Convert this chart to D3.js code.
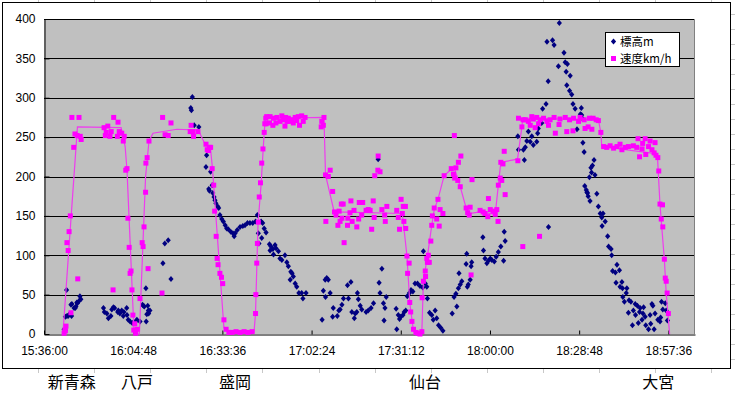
<!DOCTYPE html>
<html>
<head>
<meta charset="utf-8">
<script src="https://cdn.jsdelivr.net/npm/d3@7"></script>
<style>
  body { margin: 0; background: #fff; }
  text { font-family: "Liberation Sans", Arial, sans-serif; }
  .jp { font-family: "Noto Sans CJK JP", sans-serif; }
</style>
</head>
<body>
<div id="chart"></div>
<script>
// x values are minutes after the first tick (15:36:00)
const startClock = "15:36:00";
const xMaxMinutes = 210.2;
const xTickLabels = ["15:36:00", "16:04:48", "16:33:36", "17:02:24", "17:31:12", "18:00:00", "18:28:48", "18:57:36"];
const yTicks = [0, 50, 100, 150, 200, 250, 300, 350, 400];
const seriesNames = ["標高m", "速度km/h"];

const stations = ["新青森", "八戸", "盛岡", "仙台", "大宮"];
const stationMinutes = [9, 30, 61.7, 123, 198.3];

// 標高m
const elevation = [
  [6.5,6],[6.9,5],[6.9,22],[7.3,56],[7.4,23],[7.8,23],[8.2,25],[8.7,37],[8.9,23],[9.0,38],[9.7,33],[10.1,33],[10.3,35],[10.6,40],[10.8,39],[11.3,42],[11.6,48],[11.9,44],
  [19.2,33],[19.5,28],[20.3,26],[20.8,20],[21.6,23],[21.9,31],[22.4,34],[22.8,33],[23.8,28],[24.0,30],[24.5,26],[25.1,30],[25.6,23],[25.8,28],[26.7,33],[26.8,24],[27.2,18],[27.8,16],[28.5,14],[29.2,14],[29.6,16],[30.0,18],[31.0,16],[31.8,37],[32.1,36],[32.4,35],[32.9,58],[33.0,16],[33.2,25],[33.5,36],[33.7,30],[33.8,26],[34.2,30],
  [38.4,90],[39.0,115],[40.1,119],[41.0,70],
  [47.4,287],[47.6,284],[47.9,301],[48.5,265],[50.0,263],
  [52.3,212],[52.5,227],[53.2,184],[53.4,182],[53.8,206],[54.3,189],[54.5,179],[54.9,174],[55.2,170],[55.5,166],[56.1,162],[56.4,160],[56.8,151],[57.4,146],[57.9,143],[58.5,138],[59.0,134],[59.5,133],[60.3,130],[61.0,128],[61.4,124],[61.7,128],[62.4,132],[63.3,136],[64.2,137],[64.9,138],[65.7,141],[66.5,141],[67.4,141],[68.3,143],[68.9,151],[69.2,128],[69.4,115],
  [70.1,143],[70.3,122],[70.6,141],[71.1,134],[71.7,129],[72.8,114],[73.0,106],[73.3,111],[73.9,108],[74.1,101],[74.6,113],[74.9,109],[75.7,105],[76.2,96],[76.8,94],[77.8,100],[78.4,91],[78.9,86],[79.5,69],[79.7,79],[80.1,77],[80.5,73],[81.1,64],[81.6,60],[82.3,52],[83.2,52],[83.6,45],[84.6,52],
  [89.8,18],[90.2,55],[90.8,69],[90.9,47],[91.3,71],[91.8,69],[92.4,52],[93.2,22],[93.4,33],[94.7,23],[95.2,30],[95.6,31],[96.2,37],[96.7,45],[98.0,62],[98.3,45],[99.1,66],[99.4,28],[100.2,20],[100.5,26],[101.0,28],[101.2,52],[101.5,44],[102.1,36],[102.6,31],[104.0,28],[104.7,30],[105.6,33],[106.4,39],
  [107.9,222],[108.2,65],[108.5,52],[109.1,83],[109.6,39],[109.8,17],[110.1,33],[110.5,47],
  [113.7,32],[113.9,6],[114.4,24],[114.8,19],[115.2,22],[115.9,24],[116.3,28],[116.8,30],[117.3,48],[118.0,52],[118.5,56],[119.1,54],[119.8,64],[120.6,64],[121.4,61],[122.3,59],[122.5,105],[123.1,64],[123.6,60],[123.8,45],[124.5,27],[125.2,24],[125.7,18],[126.3,30],[126.8,20],[127.4,11],[128.1,8],[128.8,4],
  [131.8,26],[132.4,47],[133.0,51],[133.3,35],[133.8,58],[134.0,77],[134.4,63],[134.9,67],[136.3,89],[136.5,102],[136.7,60],[137.0,63],[137.6,69],[137.9,86],[138.1,91],
  [141.7,123],[141.9,106],[142.4,96],[143.0,90],[143.5,93],[144.1,96],[144.6,94],[145.4,92],[146.0,98],[146.7,104],[147.5,111],[148.4,93],[148.6,130],[148.9,118],
  [153.0,251],[153.2,234],[154.8,234],[155.1,221],[155.4,237],[155.9,245],[156.4,257],[157.0,244],[157.5,251],[158.0,240],[159.1,244],[159.4,255],[159.6,261],[160.7,268],[161.0,286],[162.1,292],[162.4,371],[162.8,321],[162.9,136],[164.2,373],[164.7,367],[166.1,340],[166.4,395],[167.9,357],[168.3,345],[168.6,333],[168.8,316],[169.0,343],[169.7,309],[169.9,328],[170.4,304],[170.8,292],[171.5,286],[172.1,260],[173.2,279],[173.5,287],[173.6,278],[173.8,274],
  [174.0,243],[174.4,231],[174.6,188],[175.1,183],[175.3,180],[175.5,179],[175.7,175],[176.1,199],[176.3,169],[176.6,211],[176.8,205],[177.1,214],[177.6,221],[177.9,202],[178.5,178],[179.0,162],[179.6,153],[180.1,148],[180.2,137],[180.5,153],[181.2,143],[182.0,124],[182.3,111],[183.1,108],[183.3,100],[183.6,80],[184.5,78],[184.7,65],[185.0,88],[185.8,81],[186.0,60],[186.6,66],[186.8,58],[186.9,47],[187.4,41],[188.0,52],[188.2,58],[188.7,27],[188.9,43],[189.5,41],
  [190.0,11],[190.3,30],[190.9,38],[191.0,24],[191.6,36],[191.9,14],[192.3,28],[192.5,33],[193.1,18],[193.4,26],[193.6,34],[194.1,22],[194.3,11],[195.2,6],[195.7,24],[195.9,13],[196.3,38],[196.6,36],[197.0,6],[197.3,26],[198.2,18],[198.9,16],[199.1,21],[199.4,41],[199.8,31],[200.6,39],[200.9,30],[201.3,17]
];

// 速度km/h (points)
const speed = [
  [6.5,1],[6.8,5],[6.9,4],[7.1,10],[7.4,116],[7.8,106],[8.1,130],[8.5,150],[8.7,27],[9.0,275],[9.6,237],[10.0,254],[10.7,252],[10.9,70],[11.3,275],[11.7,251],[12.0,247],
  [19.4,262],[19.8,252],[20.1,256],[20.6,264],[21.3,251],[21.7,257],[22.3,56],[22.5,275],[23.7,251],[23.9,269],[24.3,257],[25.1,255],[25.6,245],[25.9,251],[26.4,208],[26.8,210],
  [27.1,147],[27.5,110],[27.8,77],[28.1,80],[28.4,56],[28.7,24],[29.0,5],[29.3,13],[29.6,1],[30.1,6],
  [31.0,45],[31.7,116],[32.0,111],[32.3,136],[32.8,180],[32.9,217],[33.3,224],[33.6,83],[33.9,245],
  [38.1,52],[38.3,275],[39.1,253],[40.1,252],[41.0,268],
  [47.2,257],[47.5,265],[48.0,257],[48.3,251],[49.7,257],[52.3,241],[52.7,234],[53.1,233],[53.4,237],[53.8,237],
  [54.3,210],[54.8,189],[55.1,156],[55.6,124],[55.9,96],[56.2,88],[56.8,77],[57.3,72],[57.7,64],[58.1,18],[58.8,6],[59.7,2],[60.7,2],[62.0,3],[63.3,2],[64.6,3],[65.9,2],[67.2,3],
  [68.3,26],[68.4,50],[68.7,90],[68.9,115],[69.2,142],[69.5,174],[69.9,192],[70.3,217],[70.7,235],[71.1,256],[71.3,267],[71.6,274],
  [71.7,267],[71.9,276],[72.8,268],[73.0,276],[73.9,265],[74.1,274],[74.9,268],[75.2,275],[76.2,270],[76.8,277],[77.2,272],[77.8,264],[78.0,275],[78.5,270],[78.9,274],[79.2,270],[80.0,272],[80.5,268],[81.1,275],[81.6,271],[82.1,276],[82.5,265],[83.2,277],[83.7,270],[84.3,275],
  [89.5,263],[89.7,270],[90.2,265],[90.4,275],[90.9,202],[91.0,143],[91.8,200],[92.4,208],[93.2,181],[93.8,155],[94.3,151],[94.9,138],[95.3,156],[95.6,143],[96.0,165],[96.2,147],[96.6,165],[96.9,116],
  [98.0,138],[98.1,147],[98.8,154],[99.1,169],[99.5,143],[100.1,157],[101.0,136],[101.6,146],[101.8,167],[102.6,151],[102.9,167],[104.0,157],[104.7,158],[105.3,157],[105.8,133],[106.3,169],[106.6,148],[106.8,201],[107.8,208],[107.9,226],[108.5,206],[109.1,158],[110.0,151],[110.2,143],[110.7,162],
  [113.9,157],[114.4,148],[114.8,133],[115.3,171],[115.7,153],[116.0,162],[116.2,143],[116.7,162],[116.8,134],[117.2,99],[117.4,77],[117.9,90],[118.1,40],[118.4,28],[118.8,16],[119.3,6],[120.1,2],[120.7,1],[121.4,0],[122.0,3],
  [122.1,46],[122.5,67],[123.1,80],[123.2,73],[123.6,96],[123.8,91],[124.1,100],[124.4,91],[124.9,118],[125.2,138],[125.4,150],[126.0,160],[126.8,146],[127.2,171],[127.6,137],[127.9,158],[128.8,153],[129.2,201],
  [131.5,210],[132.2,203],[132.5,252],[132.6,198],[133.0,211],[133.6,195],[133.8,218],[134.4,187],[134.6,226],[136.3,160],[136.8,154],[137.3,151],[137.6,161],[137.9,75],[138.2,196],
  [140.8,157],[141.8,155],[142.4,153],[143.3,149],[143.5,172],[144.1,158],[145.0,156],[145.7,152],[146.2,158],[146.6,143],[146.7,189],[147.3,198],[147.5,218],[147.8,195],[148.2,216],[148.6,232],[148.9,177],
  [153.0,220],[153.2,274],[154.3,263],[154.6,111],[154.7,272],[155.4,272],[156.4,270],[157.0,265],[157.5,276],[158.0,273],[158.6,262],[159.1,275],[159.7,267],[160.0,124],[160.2,272],[161.3,274],[162.4,270],[162.9,265],[163.4,272],[164.7,275],[165.1,255],[166.3,266],[166.6,273],[168.3,275],[168.8,257],[169.7,272],[170.8,258],[171.0,274],[172.6,270],[173.1,275],[174.4,272],[174.7,261],[175.7,263],[176.1,274],[176.9,260],[177.3,274],[178.3,272],[179.0,271],[179.8,256],
  [180.7,238],[181.7,237],[182.8,239],[183.9,236],[185.0,238],[186.0,241],[186.6,234],[187.7,237],[188.7,238],[190.3,239],[191.4,237],[191.8,248],[192.3,225],[193.1,235],[193.3,242],[194.1,248],[194.3,228],[195.2,238],[195.7,245],[196.3,234],[197.0,230],[197.3,243],[197.6,227],[198.2,224],[198.5,207],
  [198.9,165],[199.3,146],[199.7,164],[199.8,136],[200.3,95],[200.6,71],[200.9,67],[201.2,52],[201.6,26]
];

// 速度km/h (line)
const speedLine = [
  [6.1,0],[10.8,263],[24.9,262],[26.2,238],[26.8,208],[29.1,0],[30.8,0],[32.8,200],[33.9,245],[35.2,255],[42.9,260],[49.8,259],[51.9,242],[53.8,234],[54.4,210],[58.1,8],[59.4,2],[67.8,2],
  [68.3,26],[69.1,140],[70.1,190],[71.1,256],[71.5,274],[90.4,275],[90.9,202],[93.7,155],[115.7,153],[117.2,99],[118.1,40],[119.3,3],[122.0,2],[122.5,67],[123.7,96],[125.2,138],[126.0,158],[127.2,171],
  [129.2,201],[131.1,208],[132.4,212],[134.4,187],[136.3,160],[137.3,153],[140.8,155],[145.7,152],[146.7,189],[147.5,218],[152.9,222],[154.3,263],[154.6,274],[179.0,272],[179.8,256],[180.1,238],
  [197.3,229],[198.1,224],[198.9,164],[200.3,95],[200.9,52],[202.0,0]
];

const W = 735, H = 393;
const plot = { left: 44, right: 695, top: 19, bottom: 334 };

const parseClock = d3.timeParse("%H:%M:%S");
const t0 = parseClock(startClock);
const toDate = m => new Date(t0.getTime() + m * 60000);

const x = d3.scaleTime()
  .domain([t0, toDate(xMaxMinutes)])
  .range([plot.left, plot.right]);
const y = d3.scaleLinear().domain([0, 400]).range([plot.bottom, plot.top]);

const svg = d3.select("#chart").append("svg")
  .attr("width", W).attr("height", H);

// spreadsheet cell lines peeking out around the chart object
const sheet = svg.append("g").attr("stroke", "#c8c8c8").attr("stroke-width", 1);
d3.range(38, W, 56.1).forEach(cx => {
  const xx = Math.round(cx) + 0.5;
  sheet.append("line").attr("x1", xx).attr("x2", xx).attr("y1", 0).attr("y2", 2);
  sheet.append("line").attr("x1", xx).attr("x2", xx).attr("y1", 369).attr("y2", 373);
});
d3.range(14, 370, 15).forEach(cy => {
  sheet.append("line").attr("x1", 731).attr("x2", W).attr("y1", cy + 0.5).attr("y2", cy + 0.5);
});

// chart area border
svg.append("rect")
  .attr("x", 2.5).attr("y", 2.5).attr("width", 728).attr("height", 366)
  .attr("fill", "#fff").attr("stroke", "#000");

// plot area
svg.append("rect")
  .attr("x", plot.left).attr("y", plot.top)
  .attr("width", plot.right - plot.left).attr("height", plot.bottom - plot.top)
  .attr("fill", "#c0c0c0");
svg.append("path")
  .attr("d", `M${plot.left},${plot.top + 0.5}H${plot.right - 0.5}V${plot.bottom}`)
  .attr("fill", "none").attr("stroke", "#808080");

// gridlines
svg.append("g")
  .selectAll("line")
  .data(yTicks.filter(v => v > 0))
  .join("line")
  .attr("x1", plot.left).attr("x2", plot.right - 1)
  .attr("y1", d => Math.round(y(d)) + 0.5).attr("y2", d => Math.round(y(d)) + 0.5)
  .attr("stroke", "#000");

// axes
const yAxis = d3.axisLeft(y).tickValues(yTicks).tickSizeInner(-5).tickSizeOuter(0).tickPadding(9);
const gy = svg.append("g").attr("transform", `translate(${plot.left + 0.5},0)`).call(yAxis);
gy.selectAll("text").attr("font-size", 12).attr("fill", "#000");
gy.selectAll("line, path").attr("stroke", "#000");

const xTickDates = xTickLabels.map(parseClock);
const xAxis = d3.axisBottom(x).tickValues(xTickDates)
  .tickFormat(d3.timeFormat("%H:%M:%S"))
  .tickSizeInner(-4).tickSizeOuter(0).tickPadding(12);
const gx = svg.append("g").attr("transform", `translate(0,${plot.bottom + 0.5})`).call(xAxis);
gx.selectAll("text").attr("font-size", 12).attr("fill", "#000");
gx.selectAll("line, path").attr("stroke", "#000");
gy.selectAll("text").style("font-family", "'Liberation Sans', Arial, sans-serif");
gx.selectAll("text").style("font-family", "'Liberation Sans', Arial, sans-serif");

// 標高 markers
const diamond = "M0,-3L2.6,0L0,3L-2.6,0Z";
svg.append("g")
  .selectAll("path")
  .data(elevation)
  .join("path")
  .attr("d", diamond)
  .attr("transform", d => `translate(${x(toDate(d[0]))},${y(d[1])})`)
  .attr("fill", "#000080");

// 速度 line
const line = d3.line()
  .x(d => x(toDate(d[0])))
  .y(d => y(d[1]));
svg.append("path")
  .datum(speedLine)
  .attr("d", line)
  .attr("fill", "none")
  .attr("stroke", "#ee3cee")
  .attr("stroke-width", 1.2);

// 速度 markers
svg.append("g")
  .selectAll("rect")
  .data(speed)
  .join("rect")
  .attr("x", d => x(toDate(d[0])) - 2.5)
  .attr("y", d => y(d[1]) - 2.5)
  .attr("width", 5).attr("height", 5)
  .attr("fill", "#ff00ff");

// legend
const lg = svg.append("g").attr("transform", "translate(605,32)");
lg.append("rect").attr("x", 0.5).attr("y", 0.5).attr("width", 74).attr("height", 34)
  .attr("fill", "#fff").attr("stroke", "#000");
lg.append("path").attr("d", diamond).attr("transform", "translate(8.5,9.5)").attr("fill", "#000080");
lg.append("rect").attr("x", 6).attr("y", 24).attr("width", 5).attr("height", 5).attr("fill", "#ff00ff");
lg.selectAll("text.lab")
  .data(seriesNames)
  .join("text")
  .attr("class", "jp")
  .attr("x", 15)
  .attr("y", (d, i) => 13.5 + i * 17)
  .attr("font-size", 11.5)
  .text(d => d);

// station names in the cells below the chart
svg.append("g")
  .selectAll("text")
  .data(stations)
  .join("text")
  .attr("class", "jp")
  .attr("x", (d, i) => x(toDate(stationMinutes[i])))
  .attr("y", 388)
  .attr("text-anchor", "middle")
  .attr("font-size", 16)
  .text(d => d);
</script>
</body>
</html>
